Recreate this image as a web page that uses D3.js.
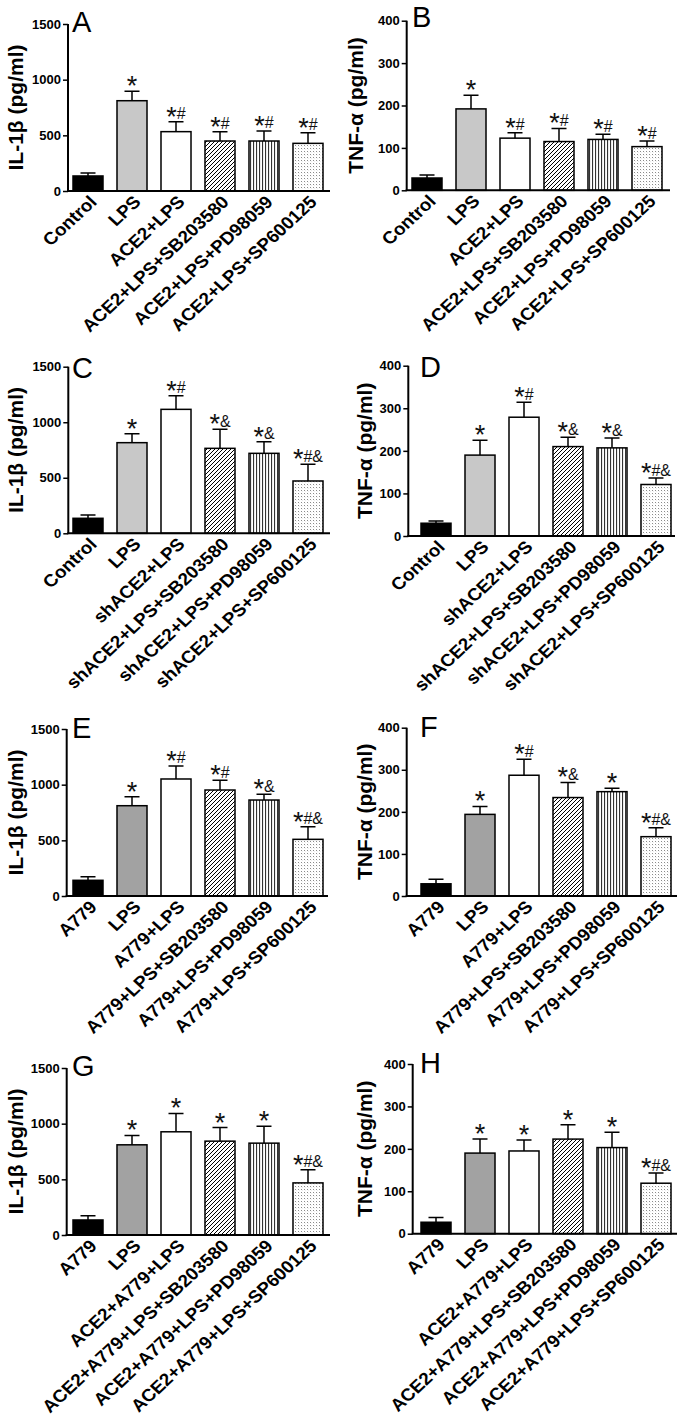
<!DOCTYPE html>
<html><head><meta charset="utf-8">
<script src="https://cdn.jsdelivr.net/npm/d3@7"></script>
<style>body{margin:0;background:#fff} svg{display:block}</style>
</head><body>
<svg id="c" width="685" height="1419"></svg>
<script>
// ---------- DATA ----------
const catsAB = ["Control","LPS","ACE2+LPS","ACE2+LPS+SB203580","ACE2+LPS+PD98059","ACE2+LPS+SP600125"];
const catsCD = ["Control","LPS","shACE2+LPS","shACE2+LPS+SB203580","shACE2+LPS+PD98059","shACE2+LPS+SP600125"];
const catsEF = ["A779","LPS","A779+LPS","A779+LPS+SB203580","A779+LPS+PD98059","A779+LPS+SP600125"];
const catsGH = ["A779","LPS","ACE2+A779+LPS","ACE2+A779+LPS+SB203580","ACE2+A779+LPS+PD98059","ACE2+A779+LPS+SP600125"];

const ticksIL = [0,500,1000,1500];
const ticksTNF = [0,100,200,300,400];

const meanA = [135,811,533,449,449,428];  const semA = [27,85,90,84,90,96];
const meanB = [29,192,123,115,120,103];   const semB = [7,32,13,31,12,13];
const meanC = [135,816,1116,765,720,471]; const semC = [30,81,123,171,105,150];
const meanD = [30,190,279,210,207,121];   const semD = [5,35,35,22,23,15];
const meanE = [141,811,1051,952,862,509]; const semE = [32,81,117,88,52,114];
const meanF = [29,194,287,234,248,141];   const semF = [11,19,38,36,8,21];
const meanG = [135,810,927,843,825,468];  const semG = [39,84,165,122,152,117];
const meanH = [27,190,195,223,203,119];   const semH = [11,33,26,34,36,24];

const marksAB = ["","*","*#","*#","*#","*#"];
const marksCD = ["","*","*#","*&","*&","*#&"];
const marksE  = ["","*","*#","*#","*&","*#&"];
const marksF  = ["","*","*#","*&","*","*#&"];
const marksGH = ["","*","*","*","*","*#&"];

const yLabelIL = "IL-1β (pg/ml)";
const yLabelTNF = "TNF-α (pg/ml)";

// ---------- PANELS (data refs) ----------
const panels = [
  {letter:"A", cats:catsAB, mean:meanA, sem:semA, marks:marksAB, ticks:ticksIL, ylab:yLabelIL, lps:"light"},
  {letter:"B", cats:catsAB, mean:meanB, sem:semB, marks:marksAB, ticks:ticksTNF, ylab:yLabelTNF, lps:"light"},
  {letter:"C", cats:catsCD, mean:meanC, sem:semC, marks:marksCD, ticks:ticksIL, ylab:yLabelIL, lps:"light"},
  {letter:"D", cats:catsCD, mean:meanD, sem:semD, marks:marksCD, ticks:ticksTNF, ylab:yLabelTNF, lps:"light"},
  {letter:"E", cats:catsEF, mean:meanE, sem:semE, marks:marksE, ticks:ticksIL, ylab:yLabelIL, lps:"dark"},
  {letter:"F", cats:catsEF, mean:meanF, sem:semF, marks:marksF, ticks:ticksTNF, ylab:yLabelTNF, lps:"dark"},
  {letter:"G", cats:catsGH, mean:meanG, sem:semG, marks:marksGH, ticks:ticksIL, ylab:yLabelIL, lps:"dark"},
  {letter:"H", cats:catsGH, mean:meanH, sem:semH, marks:marksGH, ticks:ticksTNF, ylab:yLabelTNF, lps:"dark"}
];

// ---------- LAYOUT ----------
const layout = {
  A:{ax:68,   xEnd:330, y0:191,   yTop:24,    barL:73,  barR:323, ylabX:17,  letX:72,  letDy:8},
  B:{ax:406.7,xEnd:670, y0:190.3, yTop:20.7,  barL:412, barR:662, ylabX:357, letX:412, letDy:6},
  C:{ax:68.3, xEnd:330, y0:533.3, yTop:366.7, barL:73,  barR:323, ylabX:17,  letX:72,  letDy:11},
  D:{ax:408.3,xEnd:675, y0:536,   yTop:365.7, barL:421, barR:671, ylabX:366, letX:420, letDy:11},
  E:{ax:66.7, xEnd:328, y0:896,   yTop:729,   barL:73,  barR:323, ylabX:17,  letX:72,  letDy:9},
  F:{ax:406.7,xEnd:677, y0:896,   yTop:727.7, barL:421, barR:671, ylabX:366, letX:420, letDy:9},
  G:{ax:66.7, xEnd:330, y0:1235,  yTop:1068,  barL:73,  barR:323, ylabX:17,  letX:72,  letDy:8},
  H:{ax:412.7,xEnd:677, y0:1233.7,yTop:1064,  barL:421, barR:671, ylabX:366, letX:420, letDy:9}
};

const FONT = "'Liberation Sans', Arial, Helvetica, sans-serif";
const svg = d3.select("#c");
const defs = svg.append("defs");

// patterns
const ph = defs.append("pattern").attr("id","hatch").attr("patternUnits","userSpaceOnUse").attr("width",4).attr("height",4);
ph.append("rect").attr("width",4).attr("height",4).attr("fill","#fff");
ph.append("path").attr("d","M-1,1 L1,-1 M0,4 L4,0 M3,5 L5,3").attr("stroke","#000").attr("stroke-width",1);

const pv = defs.append("pattern").attr("id","vlines").attr("patternUnits","userSpaceOnUse").attr("width",3).attr("height",3);
pv.append("rect").attr("width",3).attr("height",3).attr("fill","#fff");
pv.append("rect").attr("x",1).attr("width",1.1).attr("height",3).attr("fill","#333");

const pd = defs.append("pattern").attr("id","dots").attr("patternUnits","userSpaceOnUse").attr("width",3).attr("height",3);
pd.append("rect").attr("width",3).attr("height",3).attr("fill","#fff");
pd.append("rect").attr("x",1).attr("y",1).attr("width",1).attr("height",1).attr("fill","#8a8a8a");
pd.append("rect").attr("x",2.5).attr("y",2.5).attr("width",0.5).attr("height",0.5).attr("fill","#bbb");

function fillFor(i, lps){
  return ["#000", lps==="light" ? "#c8c8c8" : "#a2a2a2", "#fff", "url(#hatch)", "url(#vlines)", "url(#dots)"][i];
}

panels.forEach(p => {
  const L = layout[p.letter];
  const g = svg.append("g");
  const ymax = p.ticks[p.ticks.length-1];
  const y = d3.scaleLinear().domain([0, ymax]).range([L.y0, L.yTop]);
  const x = d3.scaleBand().domain(p.cats).range([L.barL, L.barR]).paddingInner(0.318).paddingOuter(0);
  const bw = x.bandwidth();

  // bars
  g.selectAll("rect.bar").data(p.cats).join("rect")
    .attr("class","bar")
    .attr("x", d => x(d))
    .attr("y", (d,i) => y(p.mean[i]))
    .attr("width", bw)
    .attr("height", (d,i) => L.y0 - y(p.mean[i]))
    .attr("fill", (d,i) => fillFor(i, p.lps))
    .attr("stroke","#000").attr("stroke-width",1.5);

  // error bars
  const capW = bw*0.5;
  g.selectAll("path.err").data(p.cats).join("path")
    .attr("class","err")
    .attr("d", (d,i) => {
      const cx = x(d)+bw/2, yt = y(p.mean[i]+p.sem[i]), yb = y(p.mean[i]);
      return `M${cx},${yb}V${yt}M${cx-capW/2},${yt}H${cx+capW/2}`;
    })
    .attr("fill","none").attr("stroke","#000").attr("stroke-width",1.5);

  // significance marks
  p.cats.forEach((d,i) => {
    const m = p.marks[i];
    if (!m) return;
    const cx = x(d)+bw/2, yt = y(p.mean[i]+p.sem[i]) - 2.5;
    const t = g.append("text").attr("x", cx).attr("y", yt).attr("text-anchor","middle")
      .attr("font-family", FONT).attr("font-size", 16).attr("fill","#111");
    t.append("tspan").attr("font-size",27).attr("dy",6.5).text("*");
    if (m.length > 1) t.append("tspan").attr("dy",-6.5).text(m.slice(1));
  });

  // y axis
  const ya = g.append("g").attr("transform",`translate(${L.ax},0)`)
    .call(d3.axisLeft(y).tickValues(p.ticks).tickSize(5).tickSizeOuter(0).tickPadding(2).tickFormat(d3.format("d")));
  ya.select(".domain").attr("stroke-width",2).attr("d", `M0,${L.y0}V${L.yTop}`);
  ya.selectAll(".tick line").attr("stroke-width",1.5);
  ya.selectAll(".tick text").attr("font-family",FONT).attr("font-weight","bold").attr("font-size",13)
    .attr("fill","#000");

  // x axis baseline
  g.append("line").attr("x1",L.ax-1).attr("x2",L.xEnd).attr("y1",L.y0).attr("y2",L.y0)
    .attr("stroke","#000").attr("stroke-width",2);

  // category labels
  g.selectAll("text.cat").data(p.cats).join("text")
    .attr("class","cat")
    .attr("transform", d => `translate(${x(d)+bw/2+10},${L.y0+12}) scale(1.08,1) rotate(-45)`)
    .attr("text-anchor","end")
    .attr("font-family",FONT).attr("font-weight","bold").attr("font-size",17.5)
    .attr("fill","#000")
    .text(d => d);

  // y label
  g.append("text")
    .attr("transform",`translate(${L.ylabX+6},${(L.y0+L.yTop)/2}) rotate(-90)`)
    .attr("text-anchor","middle")
    .attr("font-family",FONT).attr("font-weight","bold").attr("font-size",21)
    .attr("fill","#000")
    .text(p.ylab);

  // panel letter
  g.append("text").attr("x",L.letX).attr("y",L.yTop+L.letDy)
    .attr("font-family",FONT).attr("font-size",29).attr("fill","#000")
    .text(p.letter);
});
</script>
</body></html>
